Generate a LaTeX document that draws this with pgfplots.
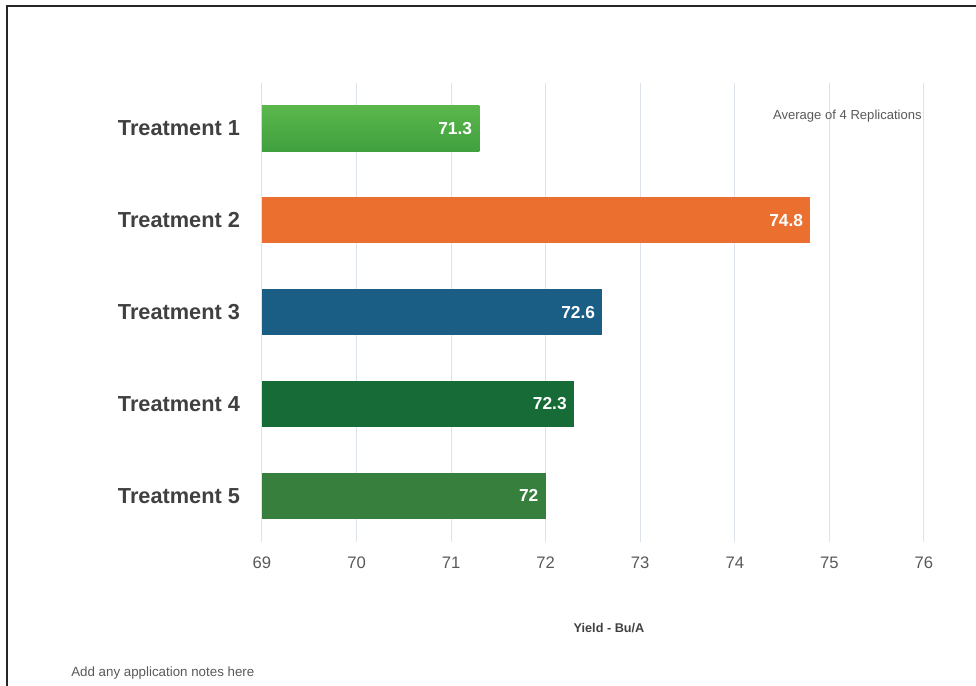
\documentclass[border=0pt]{standalone}
\usepackage{pgfplots}
\pgfplotsset{compat=1.18}
\usepackage{fontspec}
\setmainfont{Liberation Sans}
\definecolor{gridc}{HTML}{DDE3EA}
\definecolor{labc}{HTML}{404040}
\definecolor{tickc}{HTML}{595959}
\definecolor{ga}{HTML}{5BB74C}
\definecolor{gb}{HTML}{40A03F}
\definecolor{corange}{HTML}{EB702F}
\definecolor{cblue}{HTML}{1A5E86}
\definecolor{cdkgreen}{HTML}{166B36}
\definecolor{cgreen}{HTML}{367F3C}
\definecolor{framec}{HTML}{262626}
\begin{document}
\begin{tikzpicture}[x=0.75pt,y=-0.75pt]
\useasboundingbox (0,0) rectangle (976,686);
\draw[framec, line width=2pt] (7,690) -- (7,6) -- (980,6);
\begin{axis}[
  at={(277,90)}, anchor=north west,
  scale only axis, width=496.5pt, height=344.25pt,
  xbar, bar width=34.5pt,
  xmin=69, xmax=76, ymin=0.5, ymax=5.5,
  y dir=reverse,
  ytick={1,2,3,4,5},
  yticklabels={Treatment 1,Treatment 2,Treatment 3,Treatment 4,Treatment 5},
  xtick={69,70,71,72,73,74,75,76},
  xmajorgrids, ymajorgrids=false,
  major grid style={color=gridc, line width=0.8pt},
  axis line style={draw=none},
  major tick length=0pt,
  /pgf/number format/assume math mode=true,
  yticklabel style={font=\bfseries\fontsize{16.3}{19}\selectfont, color=labc, xshift=-13pt},
  xticklabel style={font=\fontsize{12.5}{15}\selectfont, color=tickc, yshift=-8pt},
  nodes near coords,
  point meta=x,
  every node near coord/.append style={anchor=east, xshift=-2pt, color=white,
     font=\bfseries\fontsize{13}{15}\selectfont, /pgf/number format/assume math mode=true},
]
\addplot[bar shift=0pt, draw=none, top color=ga, bottom color=gb] coordinates {(71.3,1)};
\addplot[bar shift=0pt, draw=none, fill=corange] coordinates {(74.8,2)};
\addplot[bar shift=0pt, draw=none, fill=cblue] coordinates {(72.6,3)};
\addplot[bar shift=0pt, draw=none, fill=cdkgreen] coordinates {(72.3,4)};
\addplot[bar shift=0pt, draw=none, fill=cgreen] coordinates {(72,5)};
\end{axis}
\node[anchor=east, inner sep=0pt, color=tickc, font=\fontsize{9.8}{12}\selectfont] at (922,116) {Average of 4 Replications};
\node[inner sep=0pt, color=labc, font=\bfseries\fontsize{9.5}{12}\selectfont] at (609,628) {Yield - Bu/A};
\node[anchor=west, inner sep=0pt, color=tickc, font=\fontsize{10}{12}\selectfont] at (71,673) {Add any application notes here};
\end{tikzpicture}
\end{document}
